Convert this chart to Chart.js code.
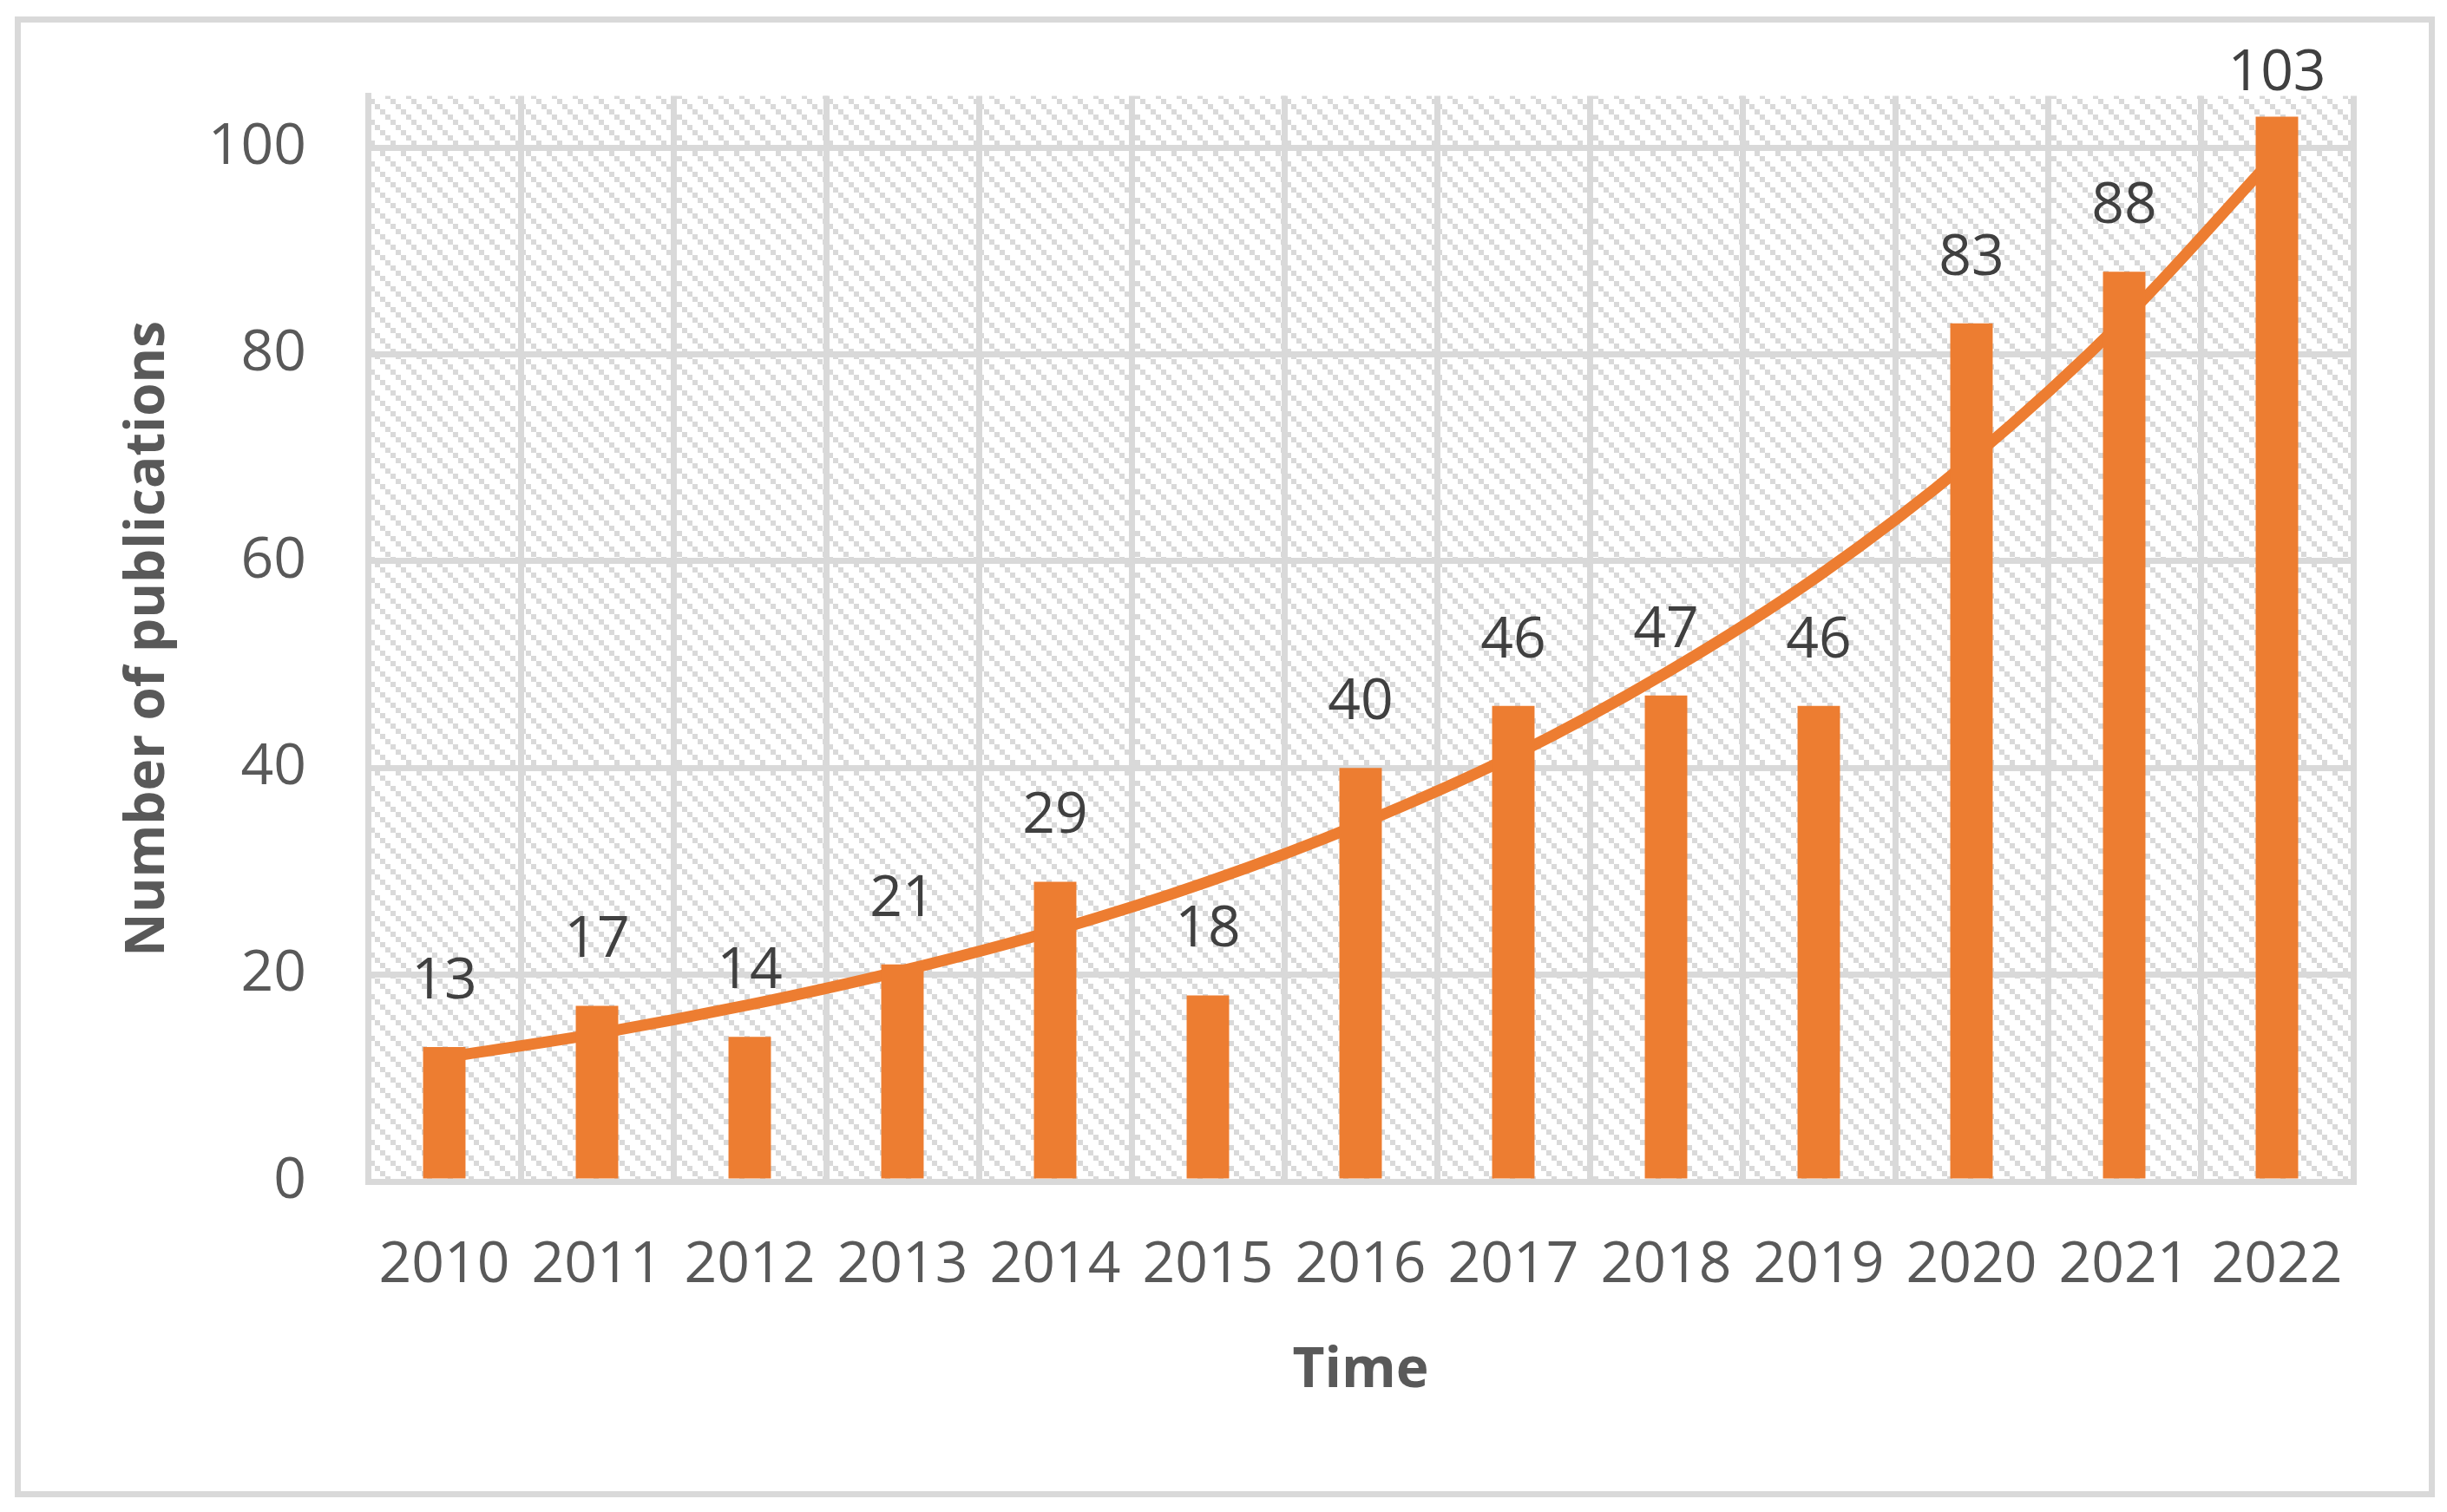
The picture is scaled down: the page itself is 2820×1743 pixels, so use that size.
<!doctype html>
<html lang="en">
<head>
<meta charset="utf-8">
<title>Number of publications per year</title>
<style>
  html, body { margin: 0; padding: 0; background: #fff; }
  #frame {
    position: absolute; left: 17px; top: 19px;
    width: 2789px; height: 1707px;
    box-sizing: border-box; border: 7px solid #d9d9d9;
  }
  #chart { position: absolute; left: 0; top: 0; }
</style>
</head>
<body>
<div id="frame"></div>
<canvas id="chart" width="2820" height="1743"></canvas>

<script src="https://cdn.jsdelivr.net/npm/chart.js"></script>
<script>
// ---- data ----
const years = ['2010', '2011', '2012', '2013', '2014', '2015', '2016', '2017', '2018', '2019', '2020', '2021', '2022']
const publications = [13, 17, 14, 21, 29, 18, 40, 46, 47, 46, 83, 88, 103]
// trend curve as it crosses each year
const trend = [12.0, 14.3, 17.1, 20.4, 24.3, 29.0, 34.6, 41.2, 49.2, 58.6, 69.9, 83.4, 99.4]
const yTicks = [0, 20, 40, 60, 80, 100]

const orange = '#ED7D31'
const gridGrey = '#d9d9d9'
const textGrey = '#595959'
const FONT = "'Open Sans', 'Noto Sans', sans-serif"

// downward diagonal hatch like the excel plot area
function hatch() {
  const c = document.createElement('canvas')
  c.width = 24
  c.height = 24
  const g = c.getContext('2d')
  g.fillStyle = '#fff'
  g.fillRect(0, 0, 24, 24)
  g.fillStyle = gridGrey
  for (let row = 0; row < 4; row++) {
    for (let col = 0; col < 4; col++) {
      if ((col - row + 4) % 4 === 0) g.fillRect(col * 6, row * 6, 6, 6)
    }
  }
  return g.createPattern(c, 'repeat')
}

const plotBackground = {
  id: 'plotBackground',
  beforeDraw(chart) {
    const { ctx, chartArea } = chart
    ctx.save()
    ctx.fillStyle = hatch()
    ctx.fillRect(chartArea.left, chartArea.top, chartArea.right - chartArea.left, chartArea.bottom - chartArea.top)
    ctx.restore()
  }
}

const barLabels = {
  id: 'barLabels',
  afterDatasetsDraw(chart) {
    const { ctx, chartArea } = chart
    const meta = chart.getDatasetMeta(0)
    ctx.save()
    ctx.font = '66px ' + FONT
    ctx.fillStyle = '#404040'
    ctx.textAlign = 'center'
    ctx.textBaseline = 'alphabetic'
    meta.data.forEach((bar, i) => {
      const y = Math.max(bar.y - 56, chartArea.top - 7)
      ctx.fillText(String(publications[i]), bar.x, y)
    })
    ctx.restore()
  }
}

new Chart(document.getElementById('chart'), {
  type: 'bar',
  data: {
    labels: years,
    datasets: [{
      type: 'bar',
      label: 'Publications',
      data: publications,
      backgroundColor: orange,
      categoryPercentage: 1,
      barPercentage: 0.278,
      order: 1
    },
    {
      type: 'line',
      label: 'Trend',
      data: trend,
      borderColor: orange,
      borderWidth: 13,
      pointRadius: 0,
      tension: 0.4,
      cubicInterpolationMode: 'monotone',
      fill: false,
      order: 2
    }]
  },
  options: {
    responsive: false,
    devicePixelRatio: 1,
    animation: false,
    layout: {
      padding: { top: 110, right: 108, bottom: 81, left: 134 }
    },
    plugins: {
      legend: { display: false },
      tooltip: { enabled: false }
    },
    scales: {
      x: {
        offset: true,
        grid: { offset: true, color: gridGrey, lineWidth: 7, drawTicks: false },
        border: { color: gridGrey, width: 7 },
        ticks: { color: textGrey, font: { family: FONT, size: 66 }, padding: 58, maxRotation: 0 },
        title: {
          display: true,
          text: 'Time',
          color: textGrey,
          font: { family: FONT, size: 64, weight: 'bold' },
          padding: { top: 0, bottom: 43 }
        },
        afterFit(scale) { scale.height = 300 }
      },
      y: {
        min: 0,
        max: 105,
        grid: { color: gridGrey, lineWidth: 7, drawTicks: false },
        border: { color: gridGrey, width: 7 },
        ticks: { stepSize: 20, color: textGrey, font: { family: FONT, size: 66 }, padding: 71 },
        afterBuildTicks(scale) {
          scale.ticks = yTicks.map((v) => ({ value: v }))
        },
        title: {
          display: true,
          text: 'Number of publications',
          color: textGrey,
          font: { family: FONT, size: 62, weight: 'bold' },
          padding: { top: 0, bottom: 0 }
        },
        afterFit(scale) { scale.width = 290 }
      }
    }
  },
  plugins: [plotBackground, barLabels]
})
</script>
</body>
</html>
